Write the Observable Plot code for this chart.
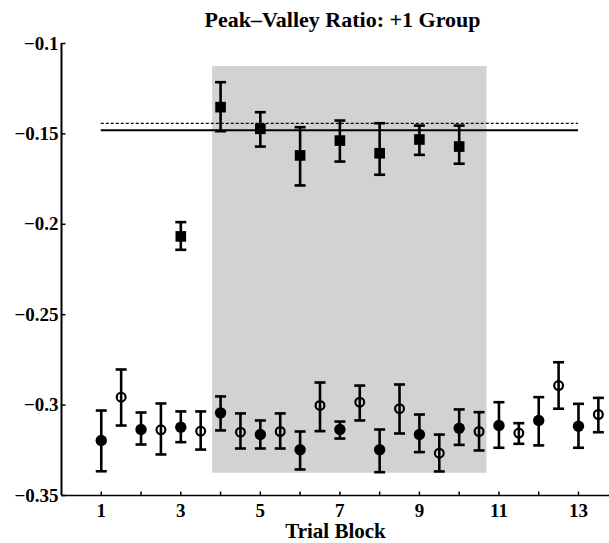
<!DOCTYPE html>
<html><head><meta charset="utf-8">
<script src="https://cdn.jsdelivr.net/npm/d3@7"></script>
<script src="https://cdn.jsdelivr.net/npm/@observablehq/plot@0.6"></script>
<style>body{margin:0;background:#fff;overflow:hidden} svg{display:block}</style>
</head><body><div id="chart"></div>
<script>
// Circle series (filled at whole blocks, open at half blocks)
const circleX = [1,1.5,2,2.5,3,3.5,4,4.5,5,5.5,6,6.5,7,7.5,8,8.5,9,9.5,10,10.5,11,11.5,12,12.5,13,13.5];
const circleY = [-0.3196,-0.2956,-0.3135,-0.3137,-0.3122,-0.3144,-0.3043,-0.3150,-0.3163,-0.3146,-0.3247,-0.3002,-0.3135,-0.2984,-0.3247,-0.3020,-0.3163,-0.3266,-0.3128,-0.3146,-0.3113,-0.3155,-0.3085,-0.2892,-0.3117,-0.3052];
const circleHi = [-0.3030,-0.2803,-0.3041,-0.2991,-0.3035,-0.3035,-0.2952,-0.3046,-0.3085,-0.3046,-0.3146,-0.2875,-0.3091,-0.2892,-0.3135,-0.2886,-0.3052,-0.3163,-0.3024,-0.3039,-0.2984,-0.3100,-0.2956,-0.2763,-0.2993,-0.2960];
const circleLo = [-0.3366,-0.3113,-0.3218,-0.3273,-0.3205,-0.3246,-0.3140,-0.3240,-0.3240,-0.3240,-0.3356,-0.3144,-0.3185,-0.3085,-0.3371,-0.3157,-0.3260,-0.3367,-0.3220,-0.3251,-0.3236,-0.3214,-0.3223,-0.3020,-0.3236,-0.3150];
const circleFilled = [true,false,true,false,true,false,true,false,true,false,true,false,true,false,true,false,true,false,true,false,true,false,true,false,true,false];

// Square series
const squareX = [3,4,5,6,7,8,9,10];
const squareY = [-0.2067,-0.1352,-0.1472,-0.1619,-0.1537,-0.1607,-0.1531,-0.1570];
const squareHi = [-0.1988,-0.1214,-0.1380,-0.1463,-0.1426,-0.1441,-0.1454,-0.1454];
const squareLo = [-0.2141,-0.1485,-0.1570,-0.1785,-0.1653,-0.1726,-0.1616,-0.1665];

// Reference lines
const refSolidY = -0.148;
const refDottedY = -0.1442;
const refX = [1, 13];

// Shaded region
const shadeX = [3.8, 10.7];
const shadeY = [-0.3377, -0.1127];

// Axes
const yTicks = [-0.1,-0.15,-0.2,-0.25,-0.3,-0.35];
const yTickLabels = ["−0.1","−0.15","−0.2","−0.25","−0.3","−0.35"];
const xTickLabels = [1,3,5,7,9,11,13];
const xMinorTicks = [1,2,3,4,5,6,7,8,9,10,11,12,13];
const xDomain = [0, 13.78];
const yDomain = [-0.35, -0.1];

const titleText = "Peak–Valley Ratio: +1 Group";
const xLabel = "Trial Block";

const circles = circleX.map((x,i)=>({x, y: circleY[i], lo: circleLo[i], hi: circleHi[i], filled: circleFilled[i]}));
const squares = squareX.map((x,i)=>({x, y: squareY[i], lo: squareLo[i], hi: squareHi[i]}));
const allBars = circles.concat(squares);

const capSym = {draw(ctx, size){const r=Math.sqrt(size/Math.PI); ctx.moveTo(-r,0); ctx.lineTo(r,0);}};
const upTick = {draw(ctx, size){const r=Math.sqrt(size/Math.PI); ctx.moveTo(0,0); ctx.lineTo(0,-r);}};
const rightTick = {draw(ctx, size){const r=Math.sqrt(size/Math.PI); ctx.moveTo(0,0); ctx.lineTo(r,0);}};

const chart = Plot.plot({
  width: 609,
  height: 543,
  marginLeft: 61,
  marginRight: 0,
  marginTop: 43,
  marginBottom: 48,
  style: {fontFamily: "'Liberation Serif', serif", fontSize: "18px", fontWeight: "bold", background: "white", color: "black", overflow: "visible"},
  x: {domain: xDomain},
  y: {domain: yDomain},
  marks: [
    Plot.rect([{x1: shadeX[0], x2: shadeX[1], y1: shadeY[0], y2: shadeY[1]}], {x1: "x1", x2: "x2", y1: "y1", y2: "y2", fill: "#d2d2d2"}),
    Plot.ruleY([refDottedY], {x1: refX[0], x2: refX[1], stroke: "black", strokeWidth: 1.3, strokeDasharray: "3,2"}),
    Plot.ruleY([refSolidY], {x1: refX[0], x2: refX[1], stroke: "black", strokeWidth: 2}),
    Plot.ruleX(allBars, {x: "x", y1: "lo", y2: "hi", stroke: "black", strokeWidth: 2.6}),
    Plot.dot(allBars, {x: "x", y: "hi", symbol: capSym, r: 5.5, stroke: "black", strokeWidth: 2.6}),
    Plot.dot(allBars, {x: "x", y: "lo", symbol: capSym, r: 5.5, stroke: "black", strokeWidth: 2.6}),
    Plot.dot(circles.filter(d=>d.filled), {x: "x", y: "y", r: 5.7, fill: "black"}),
    Plot.dot(circles.filter(d=>!d.filled), {x: "x", y: "y", r: 4.4, fill: "none", stroke: "black", strokeWidth: 2.2}),
    Plot.dot(squares, {x: "x", y: "y", symbol: "square", r: 6, fill: "black"}),
    // axis lines
    Plot.ruleX([xDomain[0]], {y1: yDomain[0], y2: yDomain[1], stroke: "black", strokeWidth: 2}),
    Plot.ruleY([yDomain[0]], {stroke: "black", strokeWidth: 1.5}),
    // inward ticks
    Plot.dot(yTicks, {x: xDomain[0], y: d=>d, symbol: rightTick, r: 4, stroke: "black", strokeWidth: 1.5}),
    Plot.dot(xMinorTicks, {x: d=>d, y: yDomain[0], symbol: upTick, r: 4, stroke: "black", strokeWidth: 1.5}),
    Plot.axisY(yTicks, {tickSize: 0, tickPadding: 3, label: null, fontSize: 19, tickFormat: (d) => yTickLabels[yTicks.indexOf(d)]}),
    Plot.axisX(xTickLabels, {tickSize: 0, tickPadding: 8, label: null, fontSize: 19}),
    Plot.text([titleText], {frameAnchor: "top", lineAnchor: "middle", dx: 7, dy: -24, fontSize: 22, fontWeight: "bold"}),
    Plot.text([xLabel], {frameAnchor: "bottom", lineAnchor: "middle", dy: 36, fontSize: 21, fontWeight: "bold"})
  ]
});
document.getElementById("chart").appendChild(chart);
</script>
</body></html>
